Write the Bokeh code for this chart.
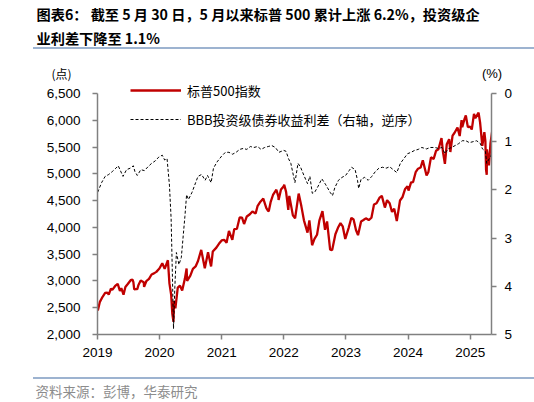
import datetime as dt
import pandas as pd
from bokeh.plotting import figure
from bokeh.models import (Range1d, LinearAxis, FixedTicker, DatetimeTickFormatter,
                          NumeralTickFormatter, Legend, LegendItem, ColumnDataSource, Spacer, Div)
from bokeh.layouts import column, row
from bokeh.embed import file_html
from bokeh.resources import INLINE
from bokeh.core.properties import value

# ---------------- texts ----------------
title_line1 = "图表6：  截至 5 月 30 日，5 月以来标普 500 累计上涨 6.2%，投资级企"
title_line2 = "业利差下降至 1.1%"
source_text = "资料来源：彭博，华泰研究"
spx_label = "标普500指数"
bbb_label = "BBB投资级债券收益利差（右轴，逆序）"
left_unit = "(点)"
right_unit = "(%)"

# ---------------- ticks ----------------
year_ticks = [2019, 2020, 2021, 2022, 2023, 2024, 2025]
left_ticks = [2000, 2500, 3000, 3500, 4000, 4500, 5000, 5500, 6000, 6500]
right_ticks = [0, 1, 2, 3, 4, 5]

# ---------------- S&P 500 ----------------
spx_dates = [
    "2019-01-02", "2019-01-03", "2019-01-15", "2019-01-31", "2019-02-15", "2019-02-28", "2019-03-08",
    "2019-03-21", "2019-03-29", "2019-04-15", "2019-04-30", "2019-05-13", "2019-05-21", "2019-06-03",
    "2019-06-14", "2019-06-28", "2019-07-15", "2019-07-26", "2019-07-31", "2019-08-05", "2019-08-15",
    "2019-08-23", "2019-08-30", "2019-09-12", "2019-09-30", "2019-10-02", "2019-10-15", "2019-10-31",
    "2019-11-15", "2019-11-29", "2019-12-13", "2019-12-31",
    "2020-01-17", "2020-01-31", "2020-02-19", "2020-02-28", "2020-03-09", "2020-03-16", "2020-03-23",
    "2020-03-26", "2020-04-03", "2020-04-17", "2020-04-30", "2020-05-13", "2020-05-29", "2020-06-08",
    "2020-06-11", "2020-06-30", "2020-07-15", "2020-07-31", "2020-08-14", "2020-09-02", "2020-09-23",
    "2020-10-12", "2020-10-30", "2020-11-09", "2020-11-30", "2020-12-15", "2020-12-31",
    "2021-01-15", "2021-01-29", "2021-02-12", "2021-03-04", "2021-03-15", "2021-03-31", "2021-04-16",
    "2021-04-30", "2021-05-12", "2021-05-28", "2021-06-15", "2021-06-30", "2021-07-19", "2021-07-30",
    "2021-08-16", "2021-09-02", "2021-09-20", "2021-09-30", "2021-10-04", "2021-10-15", "2021-10-29",
    "2021-11-18", "2021-11-30", "2021-12-01", "2021-12-15", "2021-12-31",
    "2022-01-03", "2022-01-14", "2022-01-27", "2022-02-02", "2022-02-23", "2022-03-08", "2022-03-29",
    "2022-04-14", "2022-04-29", "2022-05-20", "2022-05-31", "2022-06-16", "2022-06-30", "2022-07-15",
    "2022-07-29", "2022-08-16", "2022-08-31", "2022-09-12", "2022-09-30", "2022-10-12", "2022-10-31",
    "2022-11-15", "2022-11-30", "2022-12-13", "2022-12-28",
    "2023-01-17", "2023-02-02", "2023-02-15", "2023-03-01", "2023-03-13", "2023-03-31", "2023-04-14",
    "2023-04-28", "2023-05-15", "2023-05-31", "2023-06-15", "2023-06-30", "2023-07-18", "2023-07-31",
    "2023-08-18", "2023-08-31", "2023-09-15", "2023-09-29", "2023-10-12", "2023-10-27", "2023-11-15",
    "2023-11-30", "2023-12-15", "2023-12-29",
    "2024-01-04", "2024-01-19", "2024-01-31", "2024-02-15", "2024-02-29", "2024-03-15", "2024-03-28",
    "2024-04-19", "2024-04-30", "2024-05-15", "2024-05-31", "2024-06-14", "2024-06-28", "2024-07-16",
    "2024-07-25", "2024-08-05", "2024-08-16", "2024-08-30", "2024-09-06", "2024-09-19", "2024-09-30",
    "2024-10-18", "2024-10-31", "2024-11-11", "2024-11-15", "2024-11-29", "2024-12-06", "2024-12-18",
    "2024-12-31",
    "2025-01-10", "2025-01-23", "2025-01-31", "2025-02-19", "2025-02-28", "2025-03-13", "2025-03-25",
    "2025-03-31", "2025-04-04", "2025-04-08", "2025-04-09", "2025-04-21", "2025-04-30", "2025-05-12",
    "2025-05-19", "2025-05-23", "2025-05-30",
]
spx_values = [
    2510, 2448, 2610, 2704, 2776, 2784, 2743, 2855, 2834, 2906, 2946, 2812, 2864, 2744, 2887, 2942,
    3014, 3026, 2980, 2844, 2848, 2847, 2926, 3009, 2977, 2888, 2995, 3038, 3120, 3141, 3169, 3231,
    3330, 3226, 3386, 2954, 2747, 2386, 2237, 2630, 2489, 2875, 2912, 2820, 3044, 3232, 3002, 3100,
    3227, 3271, 3373, 3580, 3237, 3534, 3270, 3550, 3622, 3694, 3756,
    3768, 3714, 3934, 3768, 3968, 3973, 4185, 4181, 4063, 4204, 4246, 4298, 4258, 4395, 4479, 4537,
    4358, 4308, 4300, 4471, 4605, 4704, 4567, 4513, 4709, 4766,
    4797, 4663, 4326, 4589, 4225, 4170, 4632, 4393, 4132, 3901, 4132, 3667, 3785, 3863, 4130, 4305,
    3955, 4110, 3586, 3577, 3872, 3992, 4080, 4020, 3783,
    3991, 4179, 4148, 3951, 3855, 4109, 4137, 4169, 4136, 4180, 4426, 4450, 4555, 4589, 4370, 4508,
    4450, 4288, 4349, 4117, 4502, 4568, 4719, 4770,
    4688, 4840, 4846, 5030, 5096, 5117, 5254, 4967, 5036, 5308, 5278, 5431, 5460, 5667, 5400, 5186,
    5554, 5648, 5408, 5713, 5762, 5865, 5705, 6001, 5870, 6032, 6090, 5872, 5882,
    5827, 6119, 6041, 6144, 5955, 5522, 5777, 5612, 5074, 4983, 5457, 5158, 5569, 5844, 5964, 5803,
    5912,
]

# ---------------- BBB spread (%) ----------------
bbb_dates = [
    "2019-01-02", "2019-01-25", "2019-02-15", "2019-03-08", "2019-03-29", "2019-04-19", "2019-05-03",
    "2019-05-31", "2019-06-21", "2019-07-12", "2019-07-31", "2019-08-09", "2019-08-23", "2019-09-13",
    "2019-10-04", "2019-10-25", "2019-11-15", "2019-12-06", "2019-12-27",
    "2020-01-17", "2020-01-31", "2020-02-14", "2020-02-28", "2020-03-09", "2020-03-16", "2020-03-23",
    "2020-03-31", "2020-04-09", "2020-04-24", "2020-05-08", "2020-05-29", "2020-06-08", "2020-06-19",
    "2020-07-10", "2020-07-31", "2020-08-14", "2020-09-04", "2020-09-25", "2020-10-09", "2020-10-30",
    "2020-11-13", "2020-12-04", "2020-12-31",
    "2021-01-22", "2021-02-12", "2021-03-05", "2021-03-26", "2021-04-16", "2021-05-07", "2021-05-28",
    "2021-06-18", "2021-07-09", "2021-07-30", "2021-08-20", "2021-09-10", "2021-10-01", "2021-10-22",
    "2021-11-12", "2021-12-03", "2021-12-31",
    "2022-01-14", "2022-01-28", "2022-02-11", "2022-03-07", "2022-03-25", "2022-04-08", "2022-04-29",
    "2022-05-20", "2022-06-03", "2022-06-17", "2022-07-01", "2022-07-22", "2022-08-12", "2022-09-02",
    "2022-09-30", "2022-10-14", "2022-10-28", "2022-11-18", "2022-12-09", "2022-12-30",
    "2023-01-20", "2023-02-03", "2023-02-24", "2023-03-10", "2023-03-17", "2023-03-31", "2023-04-21",
    "2023-05-12", "2023-06-02", "2023-06-23", "2023-07-14", "2023-08-04", "2023-08-25", "2023-09-15",
    "2023-10-06", "2023-10-27", "2023-11-17", "2023-12-08", "2023-12-29",
    "2024-01-19", "2024-02-09", "2024-03-01", "2024-03-22", "2024-04-19", "2024-05-10", "2024-06-07",
    "2024-06-28", "2024-07-19", "2024-08-05", "2024-08-23", "2024-09-13", "2024-10-04", "2024-10-25",
    "2024-11-15", "2024-12-06", "2024-12-27",
    "2025-01-17", "2025-02-07", "2025-02-28", "2025-03-14", "2025-03-31", "2025-04-08", "2025-04-18",
    "2025-05-02", "2025-05-16", "2025-05-30",
]
bbb_values = [
    2.05, 1.85, 1.72, 1.68, 1.62, 1.55, 1.50, 1.72, 1.58, 1.55, 1.50, 1.62, 1.70, 1.58, 1.60, 1.52,
    1.45, 1.40, 1.32,
    1.28, 1.38, 1.35, 1.90, 2.60, 3.70, 4.88, 4.00, 3.30, 3.55, 3.40, 2.55, 2.10, 2.20, 2.05, 1.85,
    1.72, 1.68, 1.80, 1.70, 1.85, 1.55, 1.42, 1.30,
    1.22, 1.22, 1.26, 1.22, 1.16, 1.14, 1.16, 1.10, 1.12, 1.10, 1.16, 1.12, 1.10, 1.08, 1.12, 1.22,
    1.18,
    1.20, 1.35, 1.45, 1.85, 1.45, 1.52, 1.70, 1.87, 1.72, 2.07, 2.05, 1.92, 1.77, 1.88, 2.05, 2.12,
    1.95, 1.80, 1.74, 1.70,
    1.60, 1.53, 1.58, 1.80, 1.97, 1.78, 1.74, 1.80, 1.72, 1.62, 1.55, 1.53, 1.55, 1.52, 1.58, 1.64,
    1.45, 1.35, 1.25,
    1.22, 1.18, 1.16, 1.12, 1.15, 1.12, 1.12, 1.14, 1.12, 1.25, 1.15, 1.12, 1.08, 1.04, 0.98, 0.98,
    1.02,
    1.00, 0.98, 1.03, 1.15, 1.20, 1.45, 1.38, 1.30, 1.15, 1.10,
]

# ---------------- layout constants (page pixels) ----------------
W = 534
TITLE_H = 47          # title strip (page y 0..47)
RULE_H = 2            # separator rules
UNITS_H = 33          # unit-label strip (page y 49..82)
FRAME_TOP = TITLE_H + RULE_H + UNITS_H   # 82
AX_TOP = 93           # y where 6,500 / 0% sit
AX_BOT = 334          # y where 2,000 / 5% sit
FRAME_L, FRAME_R = 97, 491
MAIN_H = 295          # main chart (page y 82..377)
FTR_H = 21            # source strip (page y 379..400)
RULE_X = 33
CJK = "Noto Sans CJK SC"
LAT = "Liberation Sans"
RULE_COLOR = "#9db3d0"

left_lo, left_hi = left_ticks[0], left_ticks[-1]
right_lo, right_hi = right_ticks[0], right_ticks[-1]
extra_px = AX_TOP - FRAME_TOP
left_top = left_hi + extra_px * (left_hi - left_lo) / (AX_BOT - AX_TOP)
right_top = right_lo - extra_px * (right_hi - right_lo) / (AX_BOT - AX_TOP)


def no_align(f):
    try:
        f.frame_align = False
    except Exception:
        pass
    return f


def strip(height, width=W):
    f = figure(width=width, height=height, x_range=Range1d(0, width), y_range=Range1d(height, 0),
               toolbar_location=None, output_backend="svg", min_border=0,
               x_axis_location=None, y_axis_location=None, outline_line_color=None)
    f.grid.visible = False
    return no_align(f)


def rule_row():
    bar = Div(text="", width=W - RULE_X, height=RULE_H, margin=(0, 0, 0, 0),
              styles={"background-color": RULE_COLOR, "overflow": "hidden"})
    return row(Spacer(width=RULE_X, height=RULE_H, margin=(0, 0, 0, 0)), bar, spacing=0)


# ---------------- header ----------------
hdr = strip(TITLE_H)
hdr.text(x=[36, 36], y=[13.5, 37.5], text=[title_line1, title_line2], text_font=value(CJK),
         text_font_size="14.2px", text_font_style="bold", text_baseline="middle",
         text_align="left", text_color="#000000")

units = strip(UNITS_H)
units.text(x=[61], y=[23.5], text=[left_unit], text_font=value(CJK), text_font_size="12px",
           text_baseline="middle", text_align="center", text_color="#000000")
units.text(x=[491.5], y=[24], text=[right_unit], text_font=value(LAT), text_font_size="13px",
           text_baseline="middle", text_align="center", text_color="#000000")

# ---------------- main chart ----------------
x_start = dt.datetime(2019, 1, 1)
x_end = dt.datetime(2025, 5, 6)
spx_src = ColumnDataSource(dict(date=pd.to_datetime(spx_dates), v=spx_values))
bbb_src = ColumnDataSource(dict(date=pd.to_datetime(bbb_dates), v=bbb_values))

p = figure(width=W, height=MAIN_H, x_axis_type="datetime",
           x_range=Range1d(x_start, x_end), y_range=Range1d(left_lo, left_top),
           toolbar_location=None, output_backend="svg",
           min_border_left=FRAME_L, min_border_right=W - FRAME_R, min_border_top=0,
           min_border_bottom=MAIN_H - (AX_BOT - FRAME_TOP),
           outline_line_color=None, background_fill_color="white")
no_align(p)
p.grid.visible = False
p.extra_y_ranges = {"spread": Range1d(start=right_hi, end=right_top)}

r_spx = p.line(x="date", y="v", source=spx_src, line_color="#c00000", line_width=2.3)
r_bbb = p.line(x="date", y="v", source=bbb_src, y_range_name="spread",
               line_color="#000000", line_width=1, line_dash="3 2")

year_ms = [pd.Timestamp(f"{y}-01-01").value // 10**6 for y in year_ticks]
xa = p.xaxis[0]
xa.ticker = FixedTicker(ticks=year_ms)
xa.formatter = DatetimeTickFormatter(years="%Y", months="%Y", days="%Y", hours="%Y")
xa.major_label_standoff = 8

ya = p.yaxis[0]
ya.ticker = FixedTicker(ticks=left_ticks)
ya.formatter = NumeralTickFormatter(format="0,0")
ya.major_label_standoff = 12
ya.bounds = (left_lo, left_hi)

ra = LinearAxis(y_range_name="spread", ticker=FixedTicker(ticks=right_ticks))
ra.major_label_standoff = 8
ra.bounds = (right_lo, right_hi)
p.add_layout(ra, "right")

for ax in [xa, ya, ra]:
    ax.axis_line_color = "#808080"
    ax.axis_line_width = 1.5
    ax.major_tick_line_color = "#808080"
    ax.major_tick_line_width = 1.5
    ax.major_tick_out = 5
    ax.major_tick_in = 0
    ax.minor_tick_line_color = None
    ax.major_label_text_font = LAT
    ax.major_label_text_font_size = "13.5px"
    ax.major_label_text_color = "#000000"

legend = Legend(items=[LegendItem(label=spx_label, renderers=[r_spx]),
                       LegendItem(label=bbb_label, renderers=[r_bbb])],
                location=(33, 205), border_line_color=None, background_fill_alpha=0,
                label_text_font=CJK, label_text_font_size="13px", label_text_color="#000000",
                glyph_width=51, glyph_height=20, label_height=20, label_standoff=6,
                spacing=9, padding=0, margin=0)
p.add_layout(legend)

# ---------------- footer ----------------
ftr = strip(FTR_H)
ftr.text(x=[35], y=[11], text=[source_text], text_font=value(CJK), text_font_size="13.5px",
         text_baseline="middle", text_align="left", text_color="#8c8c8c")

layout = column(hdr, rule_row(), units, p, rule_row(), ftr, spacing=0)
open("out.html", "w").write(file_html(layout, INLINE))
